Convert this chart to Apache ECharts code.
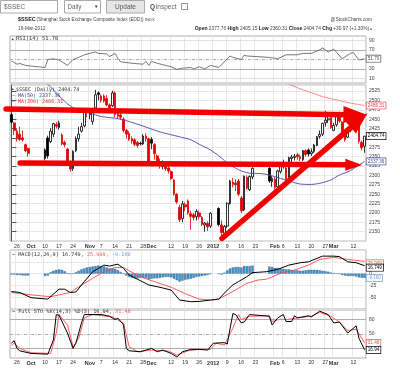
<!DOCTYPE html>
<html>
<head>
<meta charset="utf-8">
<script src="https://cdn.jsdelivr.net/npm/echarts/dist/echarts.min.js"></script>
<style>html,body{margin:0;padding:0;background:#fff}#c{width:400px;height:374px}</style>
</head>
<body>
<div id="c"></div>
<script>
// ---------------- data ----------------
const startDate = '2011-09-22';
const endDate = '2012-03-16';
const tickLabels = {
  '2011-09-26':'26','2011-10-03':'Oct','2011-10-10':'10','2011-10-17':'17','2011-10-24':'24',
  '2011-11-01':'Nov','2011-11-07':'7','2011-11-14':'14','2011-11-21':'21','2011-11-28':'28',
  '2011-12-01':'Dec','2011-12-12':'12','2011-12-19':'19','2011-12-26':'26','2012-01-02':'2012',
  '2012-01-09':'9','2012-01-16':'16','2012-01-23':'23','2012-02-01':'Feb','2012-02-06':'6',
  '2012-02-13':'13','2012-02-20':'20','2012-02-27':'27','2012-03-01':'Mar','2012-03-12':'12'
};
const boldLabels = ['Oct','Nov','Dec','2012','Feb','Mar'];

const opens = [
  2462,2440,2418,2410,2400,2382,2372,null,null,null,
  null,null,2368,2400,2390,2410,2436,2428,2408,2388,
  2370,2334,2318,2366,2398,2418,2432,2472,2462,2444,
  2480,2520,2512,2512,2505,2488,2486,2520,2464,2461,
  2450,2420,2412,2398,2395,2388,2386,2384,2405,2398,
  2396,2382,2352,2332,2324,2330,2320,2310,2288,2250,
  2215,2185,2222,2232,2198,2195,2190,2200,2188,2168,
  2172,2165,null,null,2212,2168,2146,2165,2225,2282,
  2280,2285,2240,2208,2295,2262,2296,null,null,null,
  null,null,2319,2283,2290,2270,2310,2330,2320,2295,
  2345,2348,2355,2350,2342,2366,2368,2358,2364,2380,
  2404,2410,2440,2448,2455,2420,2435,2460,2442,2408,
  2402,2420,2435,2440,2436,2388,2377.76
];
const closes = [
  2442,2420,2398,2396,2395,2366,2359,null,null,null,
  null,null,2345,2352,2418,2438,2431,2440,2384,2382,
  2331,2317,2364,2398,2410,2430,2473,2468,2470,2472,
  2515,2516,2500,2498,2488,2475,2520,2462,2458,2455,
  2420,2410,2396,2392,2383,2380,2384,2405,2398,2333,
  2386,2358,2330,2326,2333,2318,2312,2292,2250,2229,
  2182,2224,2216,2200,2191,2188,2204,2190,2170,2173,
  2163,2199,null,null,2169,2148,2164,2226,2285,2276,
  2275,2250,2206,2298,2266,2297,2319,null,null,null,
  null,null,2285,2292,2268,2312,2330,2331,2291,2347,
  2349,2351,2350,2345,2366,2356,2357,2363,2381,2403,
  2409,2439,2447,2451,2428,2433,2460,2445,2410,2395,
  2420,2439,2437,2436,2391,2373.77,2404.74
];
const lows = [
  2438,2408,2390,2392,2390,2362,2350,null,null,null,
  null,null,2340,2345,2386,2402,2425,2422,2380,2375,
  2328,2310,2312,2362,2390,2414,2428,2455,2450,2435,
  2476,2500,2494,2494,2484,2470,2482,2455,2452,2448,
  2414,2398,2392,2385,2378,2374,2380,2381,2390,2328,
  2370,2342,2325,2318,2316,2312,2305,2288,2246,2224,
  2176,2176,2205,2195,2155,2180,2180,2183,2165,2150,
  2152,2160,null,null,2164,2132,2140,2160,2222,2268,
  2258,2245,2200,2205,2262,2258,2290,null,null,null,
  null,null,2280,2270,2262,2265,2305,2318,2287,2290,
  2336,2340,2342,2338,2338,2350,2350,2352,2360,2378,
  2398,2405,2430,2440,2424,2418,2430,2440,2406,2390,
  2400,2415,2425,2428,2385,2367,2360.31
];
const highs = [
  2466,2442,2425,2430,2420,2385,2374,null,null,null,
  null,null,2372,2406,2426,2440,2442,2446,2412,2393,
  2374,2340,2367,2404,2430,2440,2476,2480,2476,2478,
  2528,2524,2516,2516,2514,2492,2526,2524,2468,2466,
  2455,2424,2418,2404,2399,2392,2390,2410,2412,2401,
  2402,2386,2356,2345,2340,2336,2326,2314,2290,2253,
  2222,2232,2228,2236,2206,2200,2210,2206,2192,2176,
  2178,2202,null,null,2215,2180,2168,2228,2288,2293,
  2290,2290,2245,2300,2300,2300,2322,null,null,null,
  null,null,2322,2298,2295,2315,2335,2342,2325,2350,
  2355,2357,2360,2356,2368,2370,2372,2372,2384,2405,
  2420,2440,2472,2460,2460,2440,2468,2470,2445,2412,
  2425,2448,2468,2446,2440,2393,2405.15
];
// moving averages read as [dayIndex, value]
const ma50 = [[12,2548],[14,2536],[17,2512],[21,2485],[24,2474],[28,2466],[32,2457],[39,2450],[46,2434],[53,2416],[60,2403],[64,2395],[67,2383],[71,2368],[74,2352],[78,2328],[82,2312],[85,2306],[89,2305],[92,2301],[96,2292],[100,2283],[103,2277],[107,2276],[110,2279],[114,2288],[117,2301],[121,2313],[124,2328],[126,2337.36]];
const ma200 = [[96,2552],[100,2540],[104,2528],[108,2518],[111,2510],[115,2503],[119,2496],[123,2490],[126,2486.31]];
// RSI(14)
const rsi = [[0,47],[2,40],[3,41.5],[5,37.5],[7,36],[12,33],[13,50],[15,51.5],[17,49],[20,37.5],[22,50],[24,54.5],[26,60],[30,66],[31,63],[34,62],[35,56],[37,63],[38,52],[39,45],[43,42],[47,40],[48,46],[49,37.5],[50,46],[52,42],[57,34.5],[59,29],[61,31.5],[64,33],[65,30],[67,34.5],[69,30],[71,37.5],[74,33],[77,51.5],[78,57.5],[79,54.5],[82,50],[83,59],[84,57.5],[92,54.5],[95,51.5],[98,60],[102,60],[104,63],[107,63],[110,70.5],[111,74.8],[113,66],[115,72],[118,51.7],[121,63.3],[122,64.6],[124,48.9],[126,51.70]];
// MACD(12,26,9)
const macdLine = [[0,-38],[3,-40],[7,-51],[13,-54],[17,-33],[19,-33],[21,-40],[23,-39],[26,-17],[29,4],[33,18],[35,16],[38,20],[40,11],[42,-3],[46,-15],[49,-24],[53,-29],[57,-35],[60,-56],[64,-59.5],[67,-59],[71,-56],[74,-54],[77,-35],[79,-24],[81,-17],[84,-6.5],[86,2],[91,4],[95,9],[99,18],[103,23],[106,25],[111,37],[115,37],[117,36],[120,25],[123,23],[126,16.749]];
const macdSignal = [[0,-40],[7,-45],[14,-49],[21,-40],[24,-28],[29,-10],[33,4],[37,13],[40,13],[42,6],[46,-6.5],[51,-17],[57,-29],[63,-45],[67,-54],[71,-56],[74,-54],[79,-38],[84,-20.5],[88,-13.6],[91,-12],[96,0.5],[101,7.6],[106,18],[110,30],[115,34.5],[120,30],[126,25.909]];
const macdHist = [
  -2,-2,-3,-3,-4,-4,-4,null,null,null,
  null,null,-5,-4,3,6,8,9,8,5,
  1,-1,0,3,6,9,11,13,14,15,
  16,17,16,15,13,11,11,10,7,3,
  -1,-4,-7,-9,-10,-10,-9,-9,-9,-12,
  -11,-10,-10,-9,-8,-7,-7,-8,-11,-14,
  -17,-15,-13,-12,-11,-9,-7,-6,-5,-4,
  -3,-1,null,null,-1,-2,2,7,11,13,
  14,14,13,16,16,16,17,null,null,null,
  null,null,15,14,12,12,11,10,9,9,
  8,7,7,6,6,7,8,8,8,8,
  7,6,5,4,2,1,0,-1,-3,-4,
  -5,-5,-5,-6,-8,-9,-9.16
];
// Full STO %K(14,3) %D(3)
const stoK = [[0,30.7],[1,36],[2,20],[3,15],[7,9.5],[13,8],[15,37.6],[16,90.5],[17,89],[20,52],[22,20],[23,30.7],[25,73],[26,90.5],[32,90.5],[35,87],[37,80],[38,83],[40,69],[41,20],[42,15],[46,13],[50,20],[52,13],[54,16.5],[57,9.5],[59,2.3],[61,13],[64,18],[67,18],[70,16.5],[72,30.7],[76,32],[77,29],[79,92.6],[80,90.5],[82,73],[83,75],[85,90.5],[92,87],[93,69],[95,83.5],[97,90.5],[98,76],[100,76],[101,88],[102,83.5],[106,88],[107,85.6],[110,97.5],[113,90.5],[115,73],[117,75],[120,52],[123,67],[124,41],[126,16.94]];
const stoD = [[0,26],[1,30.7],[3,20],[7,11],[14,9.5],[16,52],[17,90.5],[20,69],[22,23.5],[24,41],[26,83.5],[29,90.5],[36,85.6],[40,73],[42,23.5],[45,13],[50,16.5],[56,14.5],[59,6],[63,15],[67,18],[71,18],[73,30.7],[76,27],[79,62],[81,90.5],[82,80],[85,87],[92,88],[93,76],[96,81],[98,80],[102,83.5],[107,87],[110,95],[114,87],[117,75],[120,57],[123,60],[126,31.48]];
// hand-drawn annotation arrows: [fromDay, fromPrice, toDay, toPrice]
const arrows = [[-1.9,2477,127.0,2461],[3.1,2333,125.2,2328],[75.1,2132,127.0,2466]];

// ---------------- build ----------------
function weekdays(a,b){const out=[];const d=new Date(a+'T00:00:00Z');const e=new Date(b+'T00:00:00Z');while(d<=e){const w=d.getUTCDay();if(w>0&&w<6)out.push(d.toISOString().slice(0,10));d.setUTCDate(d.getUTCDate()+1);}return out;}
const dates = weekdays(startDate,endDate);
const N = dates.length;
const F = 'Liberation Sans, Arial, sans-serif';
const M = 'DejaVu Sans Mono, monospace';
const RED = '#e00000';

const candleData = [];
for (let i=0;i<N;i++){
  if (closes[i]==null){candleData.push('-');continue;}
  const prev = i>0 ? closes[i-1] : null;
  const up = (prev==null) || closes[i] >= prev;
  const c = up ? '#000' : RED;
  const hollow = closes[i] >= opens[i];
  const fill = hollow ? '#fff' : c;
  candleData.push({value:[opens[i],closes[i],lows[i],highs[i]],
    itemStyle:{color:fill,color0:fill,borderColor:c,borderColor0:c,borderWidth:0.8}});
}
const histData = macdHist.map(v => v==null ? '-' : v);

const isTick = (idx, val) => tickLabels[val] !== undefined;
function xAx(grid, showLabel){
  return {type:'category', gridIndex:grid, data:dates, boundaryGap:true,
    axisLine:{show:false}, axisTick:{show:false},
    splitLine:{show:true, interval:isTick, lineStyle:{color:'#e2e2e2', width:0.8}},
    axisLabel:{show:showLabel, interval:isTick, margin:2.5, fontSize:5.2, fontFamily:F, color:'#333',
      formatter:v => { const t = tickLabels[v]; return boldLabels.includes(t) ? '{b|'+t+'}' : t; },
      rich:{b:{fontWeight:'bold', fontSize:5.5, fontFamily:F, color:'#333'}}}};
}
function box(color, text, off){
  return {show:true, formatter:text, distance:2, offset:off||[0,0], fontSize:4.6, fontFamily:F, color:color,
    backgroundColor:'#fff', borderColor:color, borderWidth:0.7, padding:[1,1.2,0.3,1.2]};
}
function hline(v, col, type){
  return {yAxis:v, lineStyle:{color:col, width:0.8, type:type||'solid'}};
}
const ML = (arr) => ({silent:true, symbol:['none','none'], label:{show:false}, animation:false, data:arr});
const lbl = (x,y,text,o) => ({type:'text', x:x, y:y, z:100, silent:true,
  style:Object.assign({text:text, fontSize:5, fontFamily:F, fill:'#333', verticalAlign:'middle'}, o||{})});

const graphic = [
  // toolbar
  {type:'rect', shape:{x:0.5,y:0.5,width:57,height:12.5}, style:{fill:'#fff',stroke:'#aaa',lineWidth:1}},
  lbl(4,7,'$SSEC',{fontSize:6.5, fill:'#666'}),
  {type:'rect', shape:{x:64.5,y:0.5,width:36,height:12.5}, style:{fill:'#fff',stroke:'#aaa',lineWidth:1}},
  lbl(67.5,7,'Daily',{fontSize:6.3, fill:'#666'}),
  lbl(94,7,'▼',{fontSize:4.5, fill:'#333'}),
  {type:'rect', shape:{x:106.5,y:0.5,width:38,height:12.5}, style:{fill:'#e6e6e6',stroke:'#aaa',lineWidth:1}},
  lbl(125.5,7,'Update',{fontSize:6.5, fill:'#556', align:'center'}),
  lbl(150,7,'Q',{fontSize:6.5, fontWeight:'bold', fill:'#444'}),
  lbl(155.5,7,'Inspect',{fontSize:6.5, fill:'#666'}),
  {type:'rect', shape:{x:181.5,y:3.5,width:6,height:6}, style:{fill:'#fff',stroke:'#777',lineWidth:0.8}},
  // title rows
  lbl(18,20,'$SSEC',{fontSize:5.4, fontWeight:'bold', fill:'#222'}),
  lbl(36.5,20,'(Shanghai Stock Exchange Composite Index (EOD))',{fontSize:4.6, fill:'#444'}),
  lbl(145,20,'INDX',{fontSize:4, fill:'#444'}),
  lbl(372,20,'@StockCharts.com',{fontSize:4.8, fill:'#444', align:'right'}),
  lbl(18,28.5,'16-Mar-2012',{fontSize:4.8, fill:'#444'}),
  lbl(373,28.5,'{b|Open} 2377.76 {b|High} 2405.15 {b|Low} 2360.31 {b|Close} 2404.74 {b|Chg} +30.97 (+1.30%){g|▲}',
    {fontSize:4.8, fill:'#444', align:'right',
     rich:{b:{fontWeight:'bold', fontSize:5, fontFamily:F, fill:'#222'}, g:{fontSize:4, fill:'#2a2', fontFamily:F}}}),
  // panel labels
  lbl(11,39,'▲',{fontSize:3.5, fill:'#333'}),
  lbl(16,39,'RSI(14) 51.70',{fontSize:5.4, fontFamily:M, fill:'#333'}),
  lbl(11,89,'▲',{fontSize:3.5, fill:'#333'}),
  lbl(16,89.5,'$SSEC (Daily) 2404.74',{fontSize:5, fontFamily:M, fill:'#333'}),
  lbl(12,96,'— MA(50) 2337.36',{fontSize:5, fontFamily:M, fill:'#3a3a9a'}),
  lbl(12,102,'— MA(200) 2486.31',{fontSize:5, fontFamily:M, fill:'#e03030'}),
  lbl(12,255,'{k|—} MACD(12,26,9) 16.749, {r|25.909,} {u|-9.160}',{fontSize:5.2, fontFamily:M, fill:'#333',
    rich:{k:{fill:'#000', fontSize:5.2, fontFamily:M}, r:{fill:'#f06060', fontSize:5.2, fontFamily:M}, u:{fill:'#6aa0d0', fontSize:5.2, fontFamily:M}}}),
  lbl(12,312,'{k|—} Full STO %K(14,3) %D(3) 16.94, {r|31.48}',{fontSize:5.2, fontFamily:M, fill:'#333',
    rich:{k:{fill:'#000', fontSize:5.2, fontFamily:M}, r:{fill:'#f06060', fontSize:5.2, fontFamily:M}}})
];

const grids = [
  {left:10, right:34, top:36, height:47},
  {left:10, right:34, top:85, height:156.1},
  {left:10, right:34, top:250, height:59},
  {left:10, right:34, top:310, height:48}
].map(g => Object.assign(g, {show:true, borderColor:'#999', borderWidth:0.8, backgroundColor:'#fff'}));

const yLab = {fontSize:5, fontFamily:F, color:'#444', margin:3};
const option = {
  animation:false,
  backgroundColor:'#fff',
  grid:grids,
  xAxis:[xAx(0,false), xAx(1,true), xAx(2,false), xAx(3,true),
    {type:'value', gridIndex:1, min:-0.5, max:N-0.5, show:false}],
  yAxis:[
    {gridIndex:0, position:'right', min:0, max:100, interval:10, splitLine:{show:false},
      axisLabel:Object.assign({formatter:v => [10,30,70,90].includes(v) ? String(v) : ''}, yLab)},
    {gridIndex:1, position:'right', min:2125, max:2541, interval:25, scale:true,
      splitLine:{lineStyle:{color:'#e2e2e2', width:0.8}},
      axisLabel:Object.assign({showMinLabel:false, showMaxLabel:false, formatter:v => String(v)}, yLab)},
    {gridIndex:2, position:'right', min:-75, max:50, interval:25,
      splitLine:{lineStyle:{color:'#e2e2e2', width:0.8}},
      axisLabel:Object.assign({showMinLabel:false, showMaxLabel:false, formatter:v => (v===0||v===-25||v===-50) ? String(v) : ''}, yLab)},
    {gridIndex:3, position:'right', min:0, max:100, interval:10, splitLine:{show:false},
      axisLabel:Object.assign({formatter:v => (v===50||v===80) ? String(v) : ''}, yLab)}
  ],
  graphic:graphic,
  series:[
    {name:'RSI', type:'line', xAxisIndex:0, yAxisIndex:0, data:rsi, showSymbol:false,
      lineStyle:{color:'#555', width:0.8}, z:5,
      endLabel:box('#555','51.70'),
      markLine:ML([hline(10,'#d8d8d8'),hline(30,'#999'),hline(50,'#999',[3,1.5,1,1.5]),hline(70,'#999'),hline(90,'#d8d8d8')])},
    {name:'SSEC', type:'candlestick', xAxisIndex:1, yAxisIndex:1, data:candleData, barWidth:2.2, z:3,
      markPoint:{symbol:'circle', symbolSize:0.1, silent:true, animation:false,
        itemStyle:{color:'rgba(0,0,0,0)'},
        data:[{coord:[N-1, closes[N-1]]}],
        label:Object.assign(box('#000', closes[N-1].toFixed(2)), {position:'right'})}},
    {name:'MA(50)', type:'line', xAxisIndex:1, yAxisIndex:1, data:ma50, showSymbol:false, smooth:0.3,
      lineStyle:{color:'#4a4aa8', width:0.9}, z:4, endLabel:box('#4a4aa8','2337.36')},
    {name:'MA(200)', type:'line', xAxisIndex:1, yAxisIndex:1, data:ma200, showSymbol:false, smooth:0.3,
      lineStyle:{color:'#ff6a6a', width:0.8}, z:4, endLabel:box('#e84040','2486.31')},
    {name:'arrows', type:'custom', xAxisIndex:4, yAxisIndex:1, clip:false, z:10, silent:true,
      data:arrows, encode:{x:[0,2], y:[1,3]},
      renderItem:function(params, api){
        const a = arrows[params.dataIndex];
        const heads = [[24,17],[17,12],[22,16]];
        const h = heads[params.dataIndex];
        const p1 = api.coord([a[0],a[1]]), p2 = api.coord([a[2],a[3]]);
        const dx = p2[0]-p1[0], dy = p2[1]-p1[1], L = Math.hypot(dx,dy), ux = dx/L, uy = dy/L;
        const bx = p2[0]-ux*h[0], by = p2[1]-uy*h[0], px = -uy, py = ux;
        return {type:'group', children:[
          {type:'line', shape:{x1:p1[0],y1:p1[1],x2:bx+ux*3,y2:by+uy*3}, style:{stroke:'#f20000', lineWidth:5.5, lineCap:'round'}},
          {type:'polygon', shape:{points:[[p2[0],p2[1]],[bx+px*h[1]/2,by+py*h[1]/2],[bx-px*h[1]/2,by-py*h[1]/2]]}, style:{fill:'#f20000'}}
        ]};
      }},
    {name:'Hist', type:'bar', xAxisIndex:2, yAxisIndex:2, data:histData, barWidth:2.4, z:2,
      itemStyle:{color:'#4a90c4', borderColor:'#1d5d8d', borderWidth:0.3},
      markPoint:{symbol:'circle', symbolSize:0.1, silent:true, animation:false,
        itemStyle:{color:'rgba(0,0,0,0)'},
        data:[{coord:[N-1, macdHist[N-1]]}],
        label:Object.assign(box('#6aa0d0','-9.160'), {position:'right'})}},
    {name:'MACD', type:'line', xAxisIndex:2, yAxisIndex:2, data:macdLine, showSymbol:false,
      lineStyle:{color:'#000', width:1}, z:5, endLabel:box('#000','16.749',[0,2])},
    {name:'Signal', type:'line', xAxisIndex:2, yAxisIndex:2, data:macdSignal, showSymbol:false,
      lineStyle:{color:'#ff4a4a', width:0.9}, z:4, endLabel:box('#f05050','25.909',[0,2])},
    {name:'%K', type:'line', xAxisIndex:3, yAxisIndex:3, data:stoK, showSymbol:false,
      lineStyle:{color:'#000', width:1}, z:5, endLabel:box('#000','16.94'),
      markLine:ML([hline(20,'#999'),hline(50,'#999',[3,1.5,1,1.5]),hline(80,'#999')])},
    {name:'%D', type:'line', xAxisIndex:3, yAxisIndex:3, data:stoD, showSymbol:false,
      lineStyle:{color:'#ff4a4a', width:0.9}, z:4, endLabel:box('#f05050','31.48')}
  ]
};
const chart = echarts.init(document.getElementById('c'), null, {renderer:'canvas'});
chart.setOption(option);
</script>
</body>
</html>
